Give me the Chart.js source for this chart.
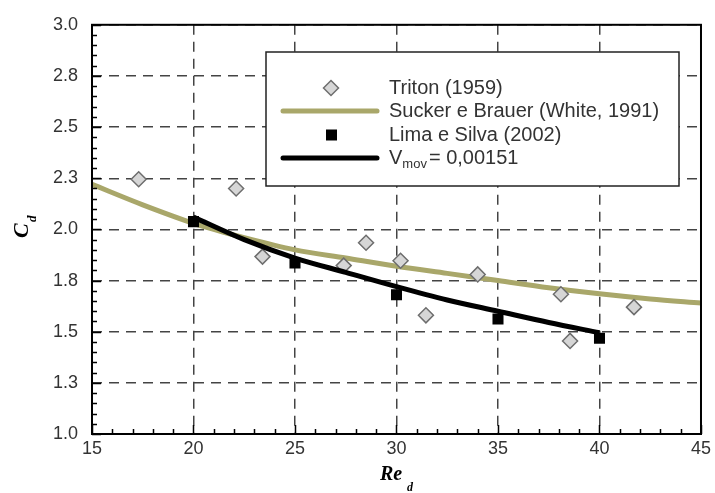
<!DOCTYPE html>
<html>
<head>
<meta charset="utf-8">
<script src="https://cdn.jsdelivr.net/npm/chart.js@4.4.1/dist/chart.umd.min.js"></script>
<style>
  html, body { margin: 0; padding: 0; background: #fff; }
  #wrap { width: 715px; height: 493px; }
</style>
</head>
<body>
<div id="wrap"><canvas id="cdChart" width="715" height="493"></canvas></div>
<script>
// Triton (1959) - experimental points
const tritonRe = [17.3, 22.1, 23.4, 27.4, 28.5, 30.2, 31.45, 34.0, 38.1, 38.55, 41.7];
const tritonCd = [2.245, 2.20, 1.867, 1.823, 1.935, 1.847, 1.58, 1.78, 1.683, 1.455, 1.62];

// Sucker e Brauer (White, 1991) - correlation curve
const suckerRe = [15, 17.5, 20, 22.5, 25, 27.5, 30, 32.5, 35, 37.5, 40, 42.5, 45];
const suckerCd = [2.22, 2.12, 2.03, 1.96, 1.90, 1.86, 1.82, 1.785, 1.75, 1.715, 1.685, 1.66, 1.64];

// Lima e Silva (2002)
const limaRe = [20, 25, 30, 35, 40];
const limaCd = [2.038, 1.836, 1.681, 1.562, 1.468];

// present work, V_mov = 0,00151
const vmovRe = [20, 22.5, 25, 27.5, 30, 32.5, 35, 37.5, 40];
const vmovCd = [2.06, 1.95, 1.86, 1.79, 1.72, 1.655, 1.60, 1.545, 1.495];

// axis ticks
const xTicks = [15, 20, 25, 30, 35, 40, 45];
const xTickLabels = ["15", "20", "25", "30", "35", "40", "45"];
const yTicks = [1.0, 1.25, 1.5, 1.75, 2.0, 2.25, 2.5, 2.75, 3.0];
const yTickLabels = ["1.0", "1.3", "1.5", "1.8", "2.0", "2.3", "2.5", "2.8", "3.0"];

const legendLabels = ["Triton (1959)", "Sucker e Brauer (White, 1991)", "Lima e Silva (2002)", "V|mov|= 0,00151"];

const pts = (xs, ys) => xs.map((x, i) => ({ x: x, y: ys[i] }));

const OLIVE = "#a9a76a";

// inward ticks, frame, axis titles and legend box
const decorations = {
  id: "decorations",
  afterDatasetsDraw(chart) {
    const ctx = chart.ctx;
    // legend box
    const bx = 266, by = 52, bw = 413, bh = 134;
    ctx.save();
    ctx.fillStyle = "#fff";
    ctx.fillRect(bx, by, bw, bh);
    ctx.strokeStyle = "#222";
    ctx.lineWidth = 1.5;
    ctx.strokeRect(bx, by, bw, bh);

    const rows = [88, 111, 135, 158];
    const ds = chart.data.datasets;
    // diamond
    ctx.beginPath();
    ctx.moveTo(331, rows[0] - 7.5);
    ctx.lineTo(338.5, rows[0]);
    ctx.lineTo(331, rows[0] + 7.5);
    ctx.lineTo(323.5, rows[0]);
    ctx.closePath();
    ctx.fillStyle = ds[0].backgroundColor;
    ctx.fill();
    ctx.lineWidth = ds[0].borderWidth;
    ctx.strokeStyle = ds[0].borderColor;
    ctx.stroke();
    // olive line
    ctx.beginPath();
    ctx.moveTo(283, rows[1]);
    ctx.lineTo(377, rows[1]);
    ctx.lineWidth = ds[1].borderWidth;
    ctx.strokeStyle = ds[1].borderColor;
    ctx.lineCap = "round";
    ctx.stroke();
    // square
    ctx.fillStyle = ds[2].backgroundColor;
    ctx.fillRect(326, rows[2] - 5.5, 11, 11);
    // black line
    ctx.beginPath();
    ctx.moveTo(283, rows[3]);
    ctx.lineTo(377, rows[3]);
    ctx.lineWidth = ds[3].borderWidth;
    ctx.strokeStyle = ds[3].borderColor;
    ctx.stroke();

    ctx.fillStyle = "#333";
    ctx.textBaseline = "middle";
    ctx.textAlign = "left";
    ctx.font = "20px 'Liberation Sans', Arial";
    for (let i = 0; i < 3; i++) ctx.fillText(legendLabels[i], 389, rows[i]);
    const parts = legendLabels[3].split("|");
    let x = 389;
    ctx.fillText(parts[0], x, rows[3]);
    x += ctx.measureText(parts[0]).width;
    ctx.font = "13px 'Liberation Sans', Arial";
    ctx.fillText(parts[1], x, rows[3] + 6);
    x += ctx.measureText(parts[1]).width + 2;
    ctx.font = "20px 'Liberation Sans', Arial";
    ctx.fillText(parts[2], x, rows[3]);
    ctx.restore();
  },
  afterDraw(chart) {
    const ctx = chart.ctx;
    const a = chart.chartArea;
    const xs = chart.scales.x, ys = chart.scales.y;
    ctx.save();
    ctx.strokeStyle = "#000";
    ctx.lineWidth = 1.5;
    ctx.beginPath();
    // bottom axis ticks (major every 5, minor every 1)
    for (let v = xs.min; v <= xs.max + 1e-9; v += 1) {
      const px = Math.round(xs.getPixelForValue(v)) + 0.5;
      const len = (Math.round(v) % 5 === 0) ? 9 : 5;
      ctx.moveTo(px, a.bottom);
      ctx.lineTo(px, a.bottom - len);
    }
    // left axis ticks (major every 0.25, minor every 0.05)
    for (let k = 0; k <= 40; k++) {
      const v = ys.min + k * 0.05;
      const py = Math.round(ys.getPixelForValue(v)) + 0.5;
      const len = (k % 5 === 0) ? 9 : 5;
      ctx.moveTo(a.left, py);
      ctx.lineTo(a.left + len, py);
    }
    ctx.stroke();
    // frame
    ctx.lineWidth = 2;
    ctx.strokeRect(a.left, a.top, a.right - a.left, a.bottom - a.top);

    // axis titles
    ctx.fillStyle = "#000";
    ctx.textBaseline = "alphabetic";
    ctx.textAlign = "left";
    ctx.font = "bold italic 20px 'Liberation Serif', 'Times New Roman'";
    ctx.fillText("Re", 380, 480);
    ctx.font = "bold italic 12px 'Liberation Serif', 'Times New Roman'";
    ctx.fillText("d", 407, 491);

    ctx.translate(28, 229);
    ctx.rotate(-Math.PI / 2);
    ctx.font = "bold italic 22px 'Liberation Serif', 'Times New Roman'";
    ctx.fillText("C", -9, 0);
    ctx.font = "bold italic 13px 'Liberation Serif', 'Times New Roman'";
    ctx.fillText("d", 7, 8);
    ctx.restore();
  }
};

Chart.defaults.font.family = "'Liberation Sans', Arial, sans-serif";

const ctx = document.getElementById("cdChart").getContext("2d");
new Chart(ctx, {
  type: "scatter",
  data: {
    datasets: [
      {
        label: legendLabels[0],
        data: pts(tritonRe, tritonCd),
        pointStyle: "rectRot",
        pointRadius: 7.5,
        backgroundColor: "#d6d6d6",
        borderColor: "#6e6e6e",
        borderWidth: 1.5,
        order: 2
      },
      {
        label: legendLabels[1],
        data: pts(suckerRe, suckerCd),
        showLine: true,
        borderColor: OLIVE,
        backgroundColor: OLIVE,
        borderWidth: 5,
        pointRadius: 0,
        cubicInterpolationMode: "monotone",
        order: 3
      },
      {
        label: legendLabels[2],
        data: pts(limaRe, limaCd),
        pointStyle: "rect",
        pointRadius: 7.8,
        backgroundColor: "#000",
        borderColor: "#000",
        borderWidth: 0,
        order: 0
      },
      {
        label: legendLabels[3],
        data: pts(vmovRe, vmovCd),
        showLine: true,
        borderColor: "#000",
        backgroundColor: "#000",
        borderWidth: 5,
        pointRadius: 0,
        cubicInterpolationMode: "monotone",
        borderCapStyle: "butt",
        order: 1
      }
    ]
  },
  options: {
    responsive: false,
    animation: false,
    events: [],
    layout: { padding: { top: 22, right: 12, left: 0, bottom: 0 } },
    plugins: {
      legend: { display: false },
      tooltip: { enabled: false }
    },
    scales: {
      x: {
        type: "linear",
        min: 15,
        max: 45,
        afterFit: (s) => { s.height = 59; },
        afterBuildTicks: (s) => { s.ticks = xTicks.map(v => ({ value: v })); },
        ticks: {
          padding: 4,
          color: "#333",
          font: { size: 18 },
          maxRotation: 0,
          callback: (v, i) => xTickLabels[i]
        },
        grid: { color: "#444", lineWidth: 1.5, drawTicks: false },
        border: { display: false, dash: [10, 7] }
      },
      y: {
        type: "linear",
        min: 1,
        max: 3,
        afterFit: (s) => { s.width = 92; },
        afterBuildTicks: (s) => { s.ticks = yTicks.map(v => ({ value: v })); },
        ticks: {
          padding: 14,
          color: "#333",
          font: { size: 18 },
          callback: (v, i) => yTickLabels[i]
        },
        grid: { color: "#444", lineWidth: 1.5, drawTicks: false },
        border: { display: false, dash: [10, 7] }
      }
    }
  },
  plugins: [decorations]
});
</script>
</body>
</html>
